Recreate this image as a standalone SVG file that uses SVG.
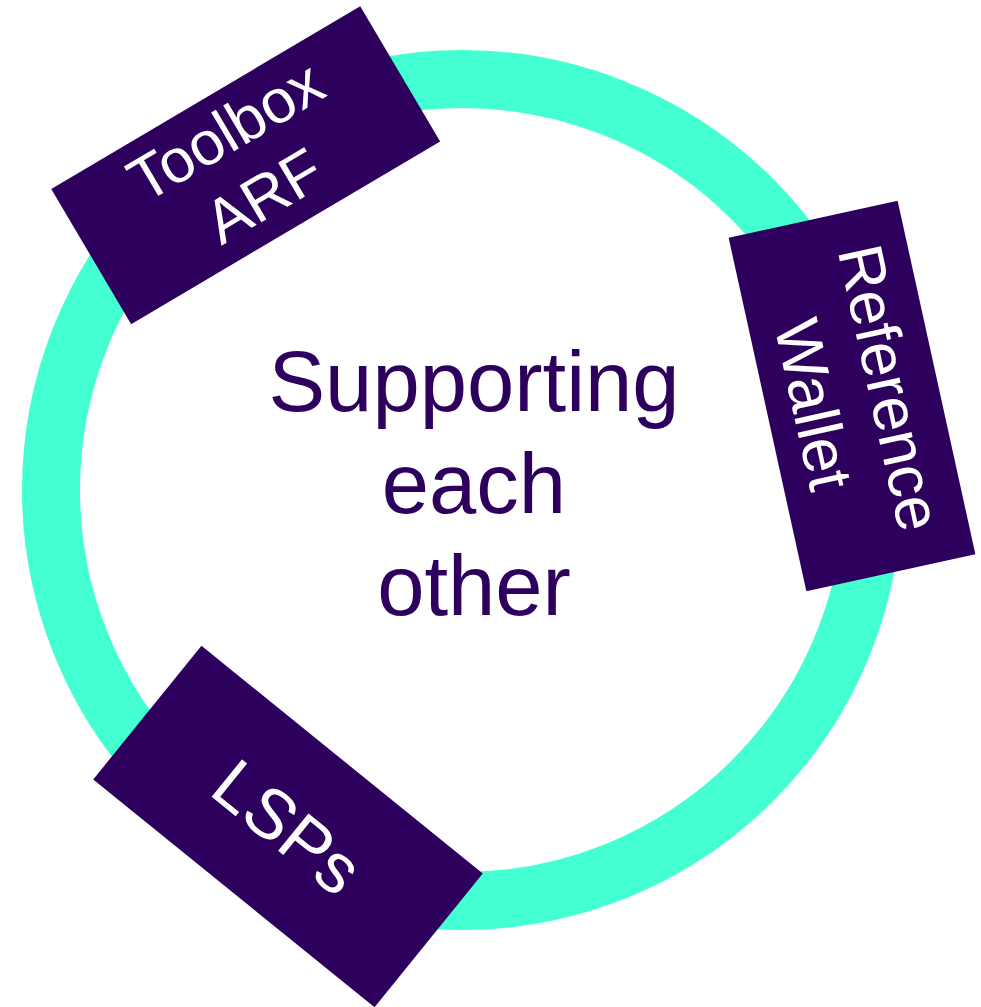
<svg xmlns="http://www.w3.org/2000/svg" width="981" height="1007" viewBox="0 0 981 1007">
  <style>
    .box { fill: #2E005E; }
    .lbl { fill: #FFFFFF; font-family: "Liberation Sans", Arial, sans-serif; text-anchor: middle; }
    .center { fill: #2E005E; font-family: "Liberation Sans", Arial, sans-serif; font-size: 85px; text-anchor: middle; }
  </style>
  <rect x="0" y="0" width="981" height="1007" fill="#FFFFFF"/>
  <g id="connectors">
    <circle cx="462" cy="490" r="411" fill="none" stroke="#44FFD2" stroke-width="58"/>
  </g>
  <g id="center-label">
    <text class="center" x="474" y="411">Supporting</text>
    <text class="center" x="474" y="513">each</text>
    <text class="center" x="474" y="615">other</text>
  </g>
  <g id="node-toolbox" transform="translate(245.7,165.2) rotate(-30.6)">
    <rect class="box" x="-179.5" y="-78.5" width="359" height="157"/>
    <text class="lbl" font-size="62" x="0" y="-18">Toolbox</text>
    <text class="lbl" font-size="62" x="0" y="57">ARF</text>
  </g>
  <g id="node-wallet" transform="translate(852,396) rotate(77.6)">
    <rect class="box" x="-181" y="-86.5" width="362" height="173"/>
    <text class="lbl" font-size="63" x="0" y="-17">Reference</text>
    <text class="lbl" font-size="63" x="0" y="61">Wallet</text>
  </g>
  <g id="node-lsps" transform="translate(288,826.5) rotate(39)">
    <rect class="box" x="-181" y="-86" width="362" height="172"/>
    <text class="lbl" font-size="70" x="0" y="25">LSPs</text>
  </g>
</svg>
